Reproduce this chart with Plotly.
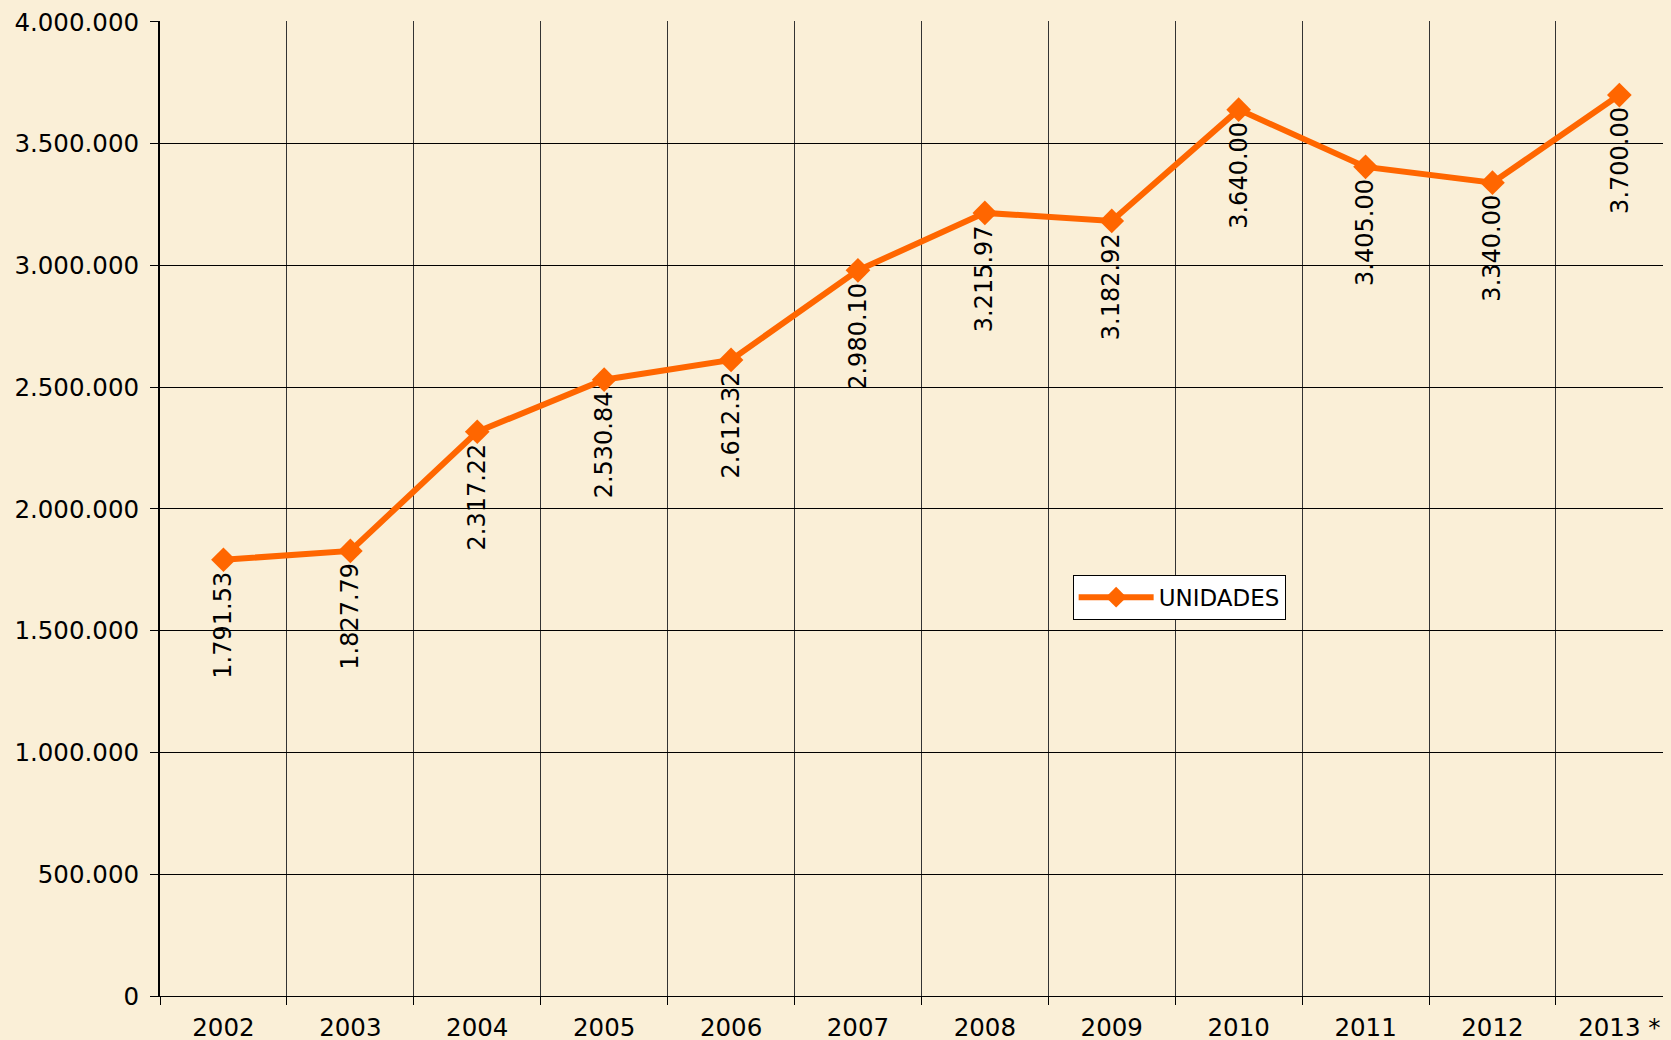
import plotly.graph_objects as go

YEARS = ["2002", "2003", "2004", "2005", "2006", "2007", "2008", "2009", "2010", "2011", "2012", "2013 *"]
UNIDADES = [1791530, 1827790, 2317220, 2530840, 2612320, 2980100, 3215970, 3182920, 3640000, 3405000, 3340000, 3700000]
LABELS = ["1.791.53", "1.827.79", "2.317.22", "2.530.84", "2.612.32", "2.980.10",
          "3.215.97", "3.182.92", "3.640.00", "3.405.00", "3.340.00", "3.700.00"]

ORANGE = "#ff6600"
BG = "#faefd7"
FONT = "DejaVu Sans, Arial, sans-serif"

fig = go.Figure(
    go.Scatter(
        x=YEARS,
        y=UNIDADES,
        mode="lines+markers",
        name="UNIDADES",
        line=dict(color=ORANGE, width=6),
        marker=dict(symbol="diamond", size=19, color=ORANGE),
    )
)

# rotated data labels under each point (x by category index, since
# numeric-looking category names would be read as positions)
for i, (val, lab) in enumerate(zip(UNIDADES, LABELS)):
    fig.add_annotation(
        x=i, y=val, text=lab, textangle=-90, showarrow=False,
        xanchor="center", yanchor="top", yshift=-10,
        font=dict(family=FONT, size=24, color="black"),
    )

# body has an 8px margin in the page, so margins are shifted by that
fig.update_layout(
    width=1671,
    height=1040,
    autosize=False,
    margin=dict(l=152, r=8, t=13, b=52),
    paper_bgcolor=BG,
    plot_bgcolor=BG,
    separators=",.",
    font=dict(family=FONT, size=24.5, color="black"),
    showlegend=True,
    legend=dict(
        x=0.604, y=0.409, xanchor="left", yanchor="middle",
        bgcolor="white", bordercolor="black", borderwidth=1,
        font=dict(size=23), itemwidth=75,
    ),
    xaxis=dict(
        type="category",
        range=[-0.5, 11.407],
        automargin=False,
        tickson="boundaries",
        ticks="outside",
        ticklen=8,
        tickcolor="black",
        ticklabelstandoff=10,
        showgrid=True,
        gridcolor="#333333",
        gridwidth=1,
        showline=True,
        linecolor="black",
        linewidth=1,
        zeroline=False,
    ),
    yaxis=dict(
        range=[0, 4004000],
        automargin=False,
        tickvals=[0, 500000, 1000000, 1500000, 2000000, 2500000, 3000000, 3500000, 4000000],
        tickformat=",d",
        ticklabeloverflow="allow",
        ticks="outside",
        ticklen=8,
        tickcolor="black",
        ticklabelstandoff=6,
        showgrid=True,
        gridcolor="black",
        gridwidth=1,
        showline=True,
        linecolor="black",
        linewidth=2,
        zeroline=False,
    ),
)

# paint the page behind the figure so the body margin doesn't show white
fig.write_html("out.html", post_script=f"document.body.style.background = '{BG}';")
